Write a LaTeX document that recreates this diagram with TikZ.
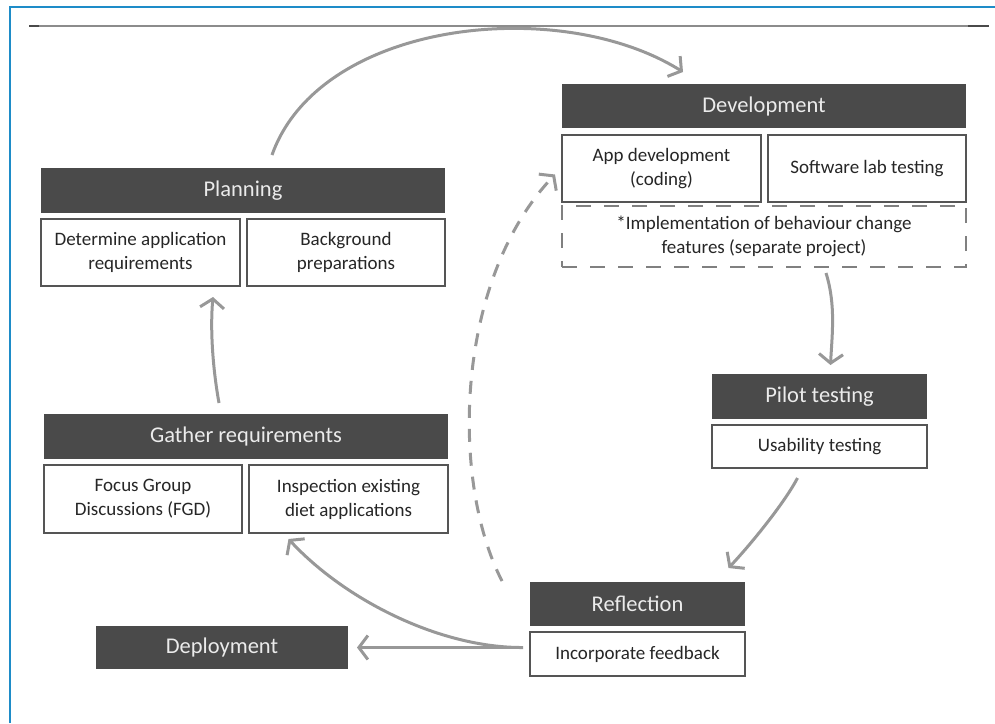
\documentclass[tikz,border=0pt]{standalone}
\usepackage{fontspec}
\setmainfont{Carlito}
\usepackage{tikz}
\usetikzlibrary{positioning, arrows.meta}

\definecolor{headgray}{RGB}{74,74,74}
\definecolor{linegray}{RGB}{152,152,152}
\definecolor{boxgray}{RGB}{85,85,85}
\definecolor{textgray}{RGB}{38,38,38}
\definecolor{rulegray}{RGB}{140,140,140}
\definecolor{frameblue}{RGB}{30,140,200}

\begin{document}
\begin{tikzpicture}[
		x=1pt, y=-1pt,
		head/.style={rectangle, fill=headgray, text=white!92!black, minimum height=45pt, inner sep=0pt, outer sep=0pt, font=\fontsize{22.5}{26}\selectfont},
		item/.style={rectangle, draw=boxgray, line width=1.4pt, fill=white, text=textgray, align=center, minimum height=67pt, inner sep=2pt, outer sep=0pt, font=\fontsize{19}{24}\selectfont},
		flow/.style={draw=linegray, line width=3pt, -{Straight Barb[length=9pt,width=24pt]}}
		]
		
		% Page frame and top rule
		\useasboundingbox (0,0) rectangle (995,723);
		\draw[frameblue, line width=2pt] (10.3,723) -- (10.3,7) -- (995,7);
		\draw[rulegray, line width=1.2pt] (29,26) -- (989,26);
		\draw[headgray, line width=1.2pt] (29,26) -- (39,26) (968,26) -- (989,26);
		
		% Planning
		\node[head, minimum width=404pt] (plan) at (243,190.5) {Planning};
		\node[item, minimum width=199pt, below right=6pt and 0pt of plan.south west] (plan1) {Determine application\\requirements};
		\node[item, minimum width=198pt, below left=6pt and 0pt of plan.south east] (plan2) {Background\\preparations};
		
		% Development
		\node[head, minimum width=404pt, minimum height=44pt] (dev) at (764,106) {Development};
		\node[item, minimum width=199pt, below right=7pt and 0pt of dev.south west] (dev1) {App development\\(coding)};
		\node[item, minimum width=198pt, below left=7pt and 0pt of dev.south east] (dev2) {Software lab testing};
		\node[item, draw=boxgray!75, dash pattern=on 15pt off 13pt, minimum width=404pt, minimum height=61pt, below right=4pt and 0pt of dev1.south west] (impl) {*Implementation of behaviour change\\features (separate project)};
		
		% Gather requirements
		\node[head, minimum width=404pt] (gath) at (246,436.5) {Gather requirements};
		\node[item, minimum width=198pt, minimum height=68pt, below right=6pt and 0pt of gath.south west] (gath1) {Focus Group\\Discussions (FGD)};
		\node[item, minimum width=199pt, minimum height=68pt, below left=6pt and 0pt of gath.south east] (gath2) {Inspection existing\\diet applications};
		
		% Pilot testing
		\node[head, minimum width=215pt] (pilot) at (819.5,396.5) {Pilot testing};
		\node[item, minimum width=215pt, minimum height=43pt, below=6pt of pilot] (usab) {Usability testing};
		
		% Reflection and deployment
		\node[head, minimum width=215pt, minimum height=44pt] (refl) at (637.5,604) {Reflection};
		\node[item, minimum width=215pt, minimum height=44pt, below=6pt of refl] (feedb) {Incorporate feedback};
		\node[head, minimum width=252pt, minimum height=43pt] (depl) at (222,647.5) {Deployment};
		
		% Cycle arrows
		\draw[flow] ([xshift=29pt,yshift=13pt]plan.north) .. controls (320,20) and (560,-5) .. ([xshift=-81pt,yshift=12pt]dev.north);
		\draw[flow] ([xshift=62pt,yshift=-6pt]impl.south) .. controls (836,305) and (832,335) .. ([xshift=11pt,yshift=9pt]pilot.north);
		\draw[flow] ([xshift=-22pt,yshift=-10pt]usab.south) .. controls (785,502) and (752,543) .. ([xshift=91pt,yshift=14pt]refl.north);
		\draw[flow] ([xshift=-7pt,yshift=6.5pt]feedb.west) -- ([xshift=9pt]depl.east);
		\draw[flow] ([xshift=-7pt,yshift=6.5pt]feedb.west) .. controls (440,648) and (345,600) .. ([xshift=-60pt,yshift=-6pt]gath2.south);
		\draw[flow, dash pattern=on 13pt off 11pt] ([xshift=-28pt,yshift=1pt]refl.north west) .. controls (450,480) and (455,280) .. ([xshift=-7pt,yshift=-6pt]dev1.west);
		\draw[flow] ([xshift=-27pt,yshift=11pt]gath.north) .. controls (213,370) and (210,330) .. ([xshift=-27pt,yshift=-11pt]plan1.south east);
		
\end{tikzpicture}
\end{document}
